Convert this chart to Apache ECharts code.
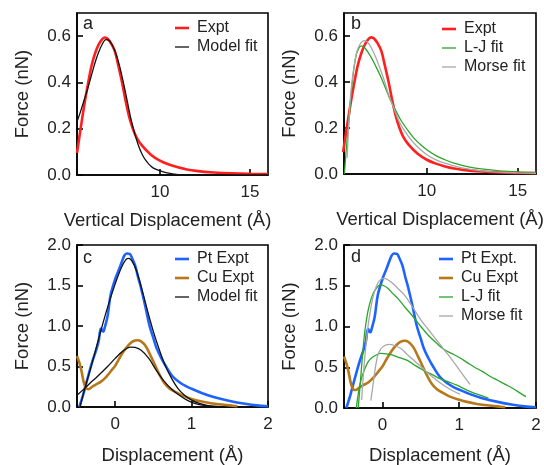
<!DOCTYPE html>
<html><head><meta charset="utf-8">
<script src="https://cdn.jsdelivr.net/npm/echarts@6/dist/echarts.min.js"></script>
<style>html,body{margin:0;padding:0;background:#fff}#c{width:544px;height:465px}</style>
</head><body><div id="c"></div>
<script>
// ---------- data ----------
const exptAB = [[5.4,0.095],[5.6,0.2],[5.8,0.30],[6.0,0.39],[6.2,0.47],[6.4,0.525],[6.6,0.563],[6.8,0.587],[6.95,0.594],[7.1,0.589],[7.3,0.568],[7.5,0.535],[7.7,0.47],[7.9,0.40],[8.1,0.32],[8.3,0.25],[8.5,0.2],[8.7,0.163],[9.0,0.128],[9.5,0.088],[10,0.062],[10.5,0.045],[11,0.033],[11.5,0.024],[12,0.018],[13,0.011],[14,0.007],[15,0.005],[16,0.004]];
const modelFitA = [[5.4,0.23],[5.6,0.275],[5.8,0.325],[6.0,0.375],[6.2,0.43],[6.4,0.485],[6.6,0.53],[6.8,0.565],[7.0,0.585],[7.2,0.58],[7.4,0.555],[7.6,0.515],[7.8,0.46],[8.0,0.39],[8.2,0.315],[8.4,0.24],[8.6,0.18],[8.8,0.13],[9.0,0.092],[9.2,0.065],[9.4,0.046],[9.6,0.032],[9.8,0.024],[10,0.018],[10.4,0.009],[10.8,0.004],[11.2,0.001],[12,0],[16,0]];
const ljFitB = [[5.47,0],[5.6,0.13],[5.73,0.236],[5.92,0.41],[6.1,0.51],[6.25,0.545],[6.41,0.557],[6.6,0.548],[6.92,0.51],[7.2,0.468],[7.47,0.423],[7.75,0.37],[8.0,0.322],[8.3,0.275],[8.56,0.236],[9.0,0.185],[9.29,0.156],[9.6,0.132],[10,0.105],[10.5,0.08],[11,0.062],[11.5,0.047],[12,0.036],[12.5,0.028],[13,0.022],[14,0.014],[15,0.009],[16,0.006]];
const morseFitB = [[5.62,0.07],[5.7,0.2],[5.8,0.33],[5.92,0.42],[6.05,0.49],[6.19,0.54],[6.4,0.572],[6.59,0.58],[6.8,0.568],[7.1,0.525],[7.4,0.465],[7.65,0.41],[7.9,0.345],[8.19,0.286],[8.5,0.225],[8.93,0.17],[9.4,0.125],[10,0.084],[10.6,0.058],[11.3,0.04],[12,0.026],[13,0.014],[14,0.008],[15,0.005],[16,0.003]];
const ptExpt = [[-0.47,0],[-0.42,0.15],[-0.36,0.36],[-0.3,0.56],[-0.25,0.7],[-0.215,0.82],[-0.2,0.93],[-0.185,0.97],[-0.17,0.94],[-0.155,0.93],[-0.14,0.97],[-0.1,1.12],[-0.06,1.385],[0.0,1.58],[0.05,1.7],[0.09,1.8],[0.12,1.87],[0.15,1.895],[0.19,1.89],[0.22,1.84],[0.26,1.75],[0.3,1.6],[0.33,1.5],[0.39,1.26],[0.45,1.0],[0.5,0.85],[0.54,0.73],[0.6,0.61],[0.65,0.525],[0.75,0.38],[0.85,0.3],[0.92,0.26],[1.0,0.225],[1.14,0.17],[1.3,0.12],[1.5,0.075],[1.7,0.04],[1.85,0.02],[2.0,0.01]];
const cuExpt = [[-0.5,0.63],[-0.47,0.55],[-0.44,0.44],[-0.41,0.3],[-0.38,0.23],[-0.35,0.22],[-0.3,0.25],[-0.25,0.28],[-0.19,0.31],[-0.12,0.37],[-0.05,0.45],[0.0,0.51],[0.06,0.61],[0.12,0.7],[0.18,0.77],[0.24,0.815],[0.29,0.825],[0.34,0.81],[0.4,0.75],[0.46,0.64],[0.52,0.52],[0.58,0.4],[0.64,0.3],[0.71,0.23],[0.8,0.18],[0.88,0.14],[1.0,0.1],[1.1,0.075],[1.2,0.055],[1.3,0.04],[1.4,0.03],[1.5,0.02],[1.6,0.01]];
const modelFitPt = [[-0.46,0],[-0.4,0.22],[-0.3,0.55],[-0.2,0.9],[-0.1,1.23],[0.0,1.52],[0.08,1.72],[0.14,1.82],[0.18,1.835],[0.22,1.8],[0.28,1.68],[0.35,1.45],[0.42,1.2],[0.5,0.93],[0.58,0.7],[0.66,0.5],[0.74,0.35],[0.82,0.23],[0.9,0.15],[1.0,0.085],[1.1,0.045],[1.2,0.02],[1.3,0.008],[1.4,0.002]];
const modelFitCu = [[-0.5,0.145],[-0.4,0.23],[-0.3,0.32],[-0.24,0.37],[-0.1,0.5],[0.0,0.6],[0.1,0.69],[0.2,0.74],[0.26,0.735],[0.34,0.7],[0.44,0.6],[0.54,0.45],[0.64,0.32],[0.74,0.22],[0.84,0.145],[0.94,0.085],[1.04,0.045],[1.14,0.022],[1.25,0.01],[1.4,0.003]];
const ljFitPt = [[-0.315,0],[-0.29,0.28],[-0.27,0.52],[-0.25,0.74],[-0.23,0.93],[-0.19,1.18],[-0.145,1.345],[-0.1,1.44],[-0.05,1.5],[-0.02,1.51],[0.02,1.5],[0.07,1.47],[0.13,1.41],[0.2,1.345],[0.3,1.23],[0.4,1.12],[0.5,1.0],[0.6,0.89],[0.7,0.8],[0.8,0.72],[0.9,0.67],[1.0,0.62],[1.1,0.56],[1.2,0.5],[1.3,0.45],[1.4,0.39],[1.5,0.34],[1.6,0.29],[1.7,0.24],[1.8,0.18],[1.87,0.14]];
const ljFitCu = [[-0.34,0],[-0.32,0.14],[-0.295,0.28],[-0.26,0.4],[-0.23,0.48],[-0.19,0.56],[-0.145,0.61],[-0.08,0.65],[-0.02,0.67],[0.05,0.665],[0.11,0.655],[0.2,0.625],[0.325,0.585],[0.43,0.52],[0.54,0.46],[0.65,0.41],[0.75,0.36],[0.86,0.32],[0.97,0.28],[1.1,0.22],[1.2,0.18],[1.3,0.15],[1.38,0.12]];
const morseFitPt = [[-0.27,0.1],[-0.24,0.5],[-0.2,0.9],[-0.16,1.18],[-0.12,1.37],[-0.08,1.49],[-0.04,1.56],[0.01,1.59],[0.06,1.58],[0.12,1.54],[0.2,1.47],[0.3,1.37],[0.4,1.23],[0.5,1.08],[0.6,0.96],[0.7,0.84],[0.8,0.72],[0.9,0.6],[1.0,0.47],[1.07,0.38],[1.14,0.29]];
const morseFitCu = [[-0.15,0.09],[-0.12,0.3],[-0.1,0.44],[-0.08,0.56],[-0.06,0.65],[-0.03,0.71],[0.005,0.75],[0.05,0.775],[0.09,0.78],[0.15,0.77],[0.24,0.73],[0.32,0.66],[0.41,0.585],[0.5,0.51],[0.58,0.44],[0.67,0.37],[0.75,0.31],[0.88,0.23],[1.01,0.17]];

const xTicksAB = [10, 15];
const yTicksAB = [0, 0.2, 0.4, 0.6];
const xTicksCD = [0, 1, 2];
const yTicksCD = [0, 0.5, 1.0, 1.5, 2.0];
const panelLetters = ['a', 'b', 'c', 'd'];
const xTitleAB = 'Vertical Displacement (Å)';
const xTitleCD = 'Displacement (Å)';
const yTitle = 'Force (nN)';

// ---------- styling ----------
const FONT = "'Liberation Sans', Arial, Helvetica, sans-serif";
const C = {red:'#ff1f1f', black:'#111111', green:'#2aa52a', gray:'#a8a8a8', blue:'#1f63ff', brown:'#b7781c'};
const THICK = 'path://M0,0M0,10M0,3.7h14v2.6h-14z';
const THIN = 'path://M0,0M0,10M0,4.35h14v1.3h-14z';
const grids = [
  {left:77, top:13, width:191, height:162},
  {left:344, top:13, width:192, height:161},
  {left:77, top:245, width:191, height:162},
  {left:344, top:245, width:192, height:163}
];
const ranges = [
  {x:[5.4,16], y:[0,0.7], xt:xTicksAB, yt:yTicksAB, xn:xTitleAB, gap:36, pad:[0,10,0,0]},
  {x:[5.45,16], y:[0,0.7], xt:xTicksAB, yt:yTicksAB, xn:xTitleAB, gap:36, pad:0},
  {x:[-0.5,2], y:[0,2], xt:xTicksCD, yt:yTicksCD, xn:xTitleCD, gap:39, pad:0},
  {x:[-0.5,2], y:[0,2], xt:xTicksCD, yt:yTicksCD, xn:xTitleCD, gap:38, pad:0}
];
const axisLineStyle = {color:'#000', width:1.6};
const xAxis = ranges.map((r,i)=>({
  type:'value', gridIndex:i, min:r.x[0], max:r.x[1],
  name:r.xn, nameLocation:'middle', nameGap:r.gap,
  nameTextStyle:{fontFamily:FONT, fontSize:18.5, color:'#222', padding:r.pad},
  axisLine:{show:true, onZero:false, lineStyle:axisLineStyle},
  axisTick:{show:true, inside:true, length:6, customValues:r.xt, lineStyle:axisLineStyle},
  axisLabel:{show:true, customValues:r.xt, margin:9, fontFamily:FONT, fontSize:17, color:'#222', formatter:v=>String(v)},
  splitLine:{show:false}
}));
const yAxis = ranges.map((r,i)=>({
  type:'value', gridIndex:i, min:r.y[0], max:r.y[1],
  name:yTitle, nameLocation:'middle', nameRotate:90, nameGap:45,
  nameTextStyle:{fontFamily:FONT, fontSize:18.5, color:'#222'},
  axisLine:{show:true, onZero:false, lineStyle:axisLineStyle},
  axisTick:{show:true, inside:true, length:6, customValues:r.yt, lineStyle:axisLineStyle},
  axisLabel:{show:true, customValues:r.yt, margin:6, fontFamily:FONT, fontSize:17, color:'#222', formatter:v=>v.toFixed(1)},
  splitLine:{show:false}
}));
function line(name, data, color, width, gi, z){
  return {type:'line', name, data, xAxisIndex:gi, yAxisIndex:gi, symbol:'none', showSymbol:false,
    smooth:0.35, lineStyle:{color, width}, itemStyle:{color}, z:z||2, silent:true, animation:false, clip:true};
}
const series = [
  line('Expt', exptAB, C.red, 2.6, 0, 2),
  line('Model fit', modelFitA, C.black, 1.3, 0, 3),
  line('Expt', exptAB, C.red, 2.6, 1, 2),
  line('L-J fit', ljFitB, C.green, 1.3, 1, 3),
  line('Morse fit', morseFitB, C.gray, 1.3, 1, 4),
  line('Pt Expt', ptExpt, C.blue, 2.6, 2, 2),
  line('Cu Expt', cuExpt, C.brown, 2.6, 2, 2),
  line('Model fit', modelFitPt, C.black, 1.3, 2, 3),
  line('Model fit', modelFitCu, C.black, 1.3, 2, 3),
  line('Pt Expt.', ptExpt, C.blue, 2.6, 3, 2),
  line('Cu Expt', cuExpt, C.brown, 2.6, 3, 2),
  line('L-J fit', ljFitPt, C.green, 1.3, 3, 3),
  line('L-J fit', ljFitCu, C.green, 1.3, 3, 3),
  line('Morse fit', morseFitPt, C.gray, 1.3, 3, 4),
  line('Morse fit', morseFitCu, C.gray, 1.3, 3, 4)
];
const thickNames = ['Expt','Pt Expt','Pt Expt.','Cu Expt'];
function legend(left, top, names){
  return {left, top, padding:0, orient:'vertical', itemWidth:14, itemHeight:10, itemGap:3, selectedMode:false,
    itemStyle:{borderWidth:0},
    data:names.map(n=>({name:n, icon: thickNames.includes(n) ? THICK : THIN})),
    textStyle:{fontFamily:FONT, fontSize:16, color:'#222', padding:[0,0,0,3]}};
}
const legends = [
  legend(175, 20, ['Expt','Model fit']),
  legend(442, 21, ['Expt','L-J fit','Morse fit']),
  legend(175, 251, ['Pt Expt','Cu Expt','Model fit']),
  legend(439, 251, ['Pt Expt.','Cu Expt','L-J fit','Morse fit'])
];
const letterPos = [[83,26],[351,26],[83,260],[351,259]];
const graphic = panelLetters.map((t,i)=>({type:'text', left:letterPos[i][0], top:letterPos[i][1]-11,
  style:{text:t, fontFamily:FONT, fontSize:18, fill:'#222'}, z:10}));

const chart = echarts.init(document.getElementById('c'), null, {renderer:'canvas'});
chart.setOption({
  animation:false,
  backgroundColor:'#fff',
  grid: grids.map(g=>Object.assign({show:true, borderColor:'#000', borderWidth:1.6, backgroundColor:'transparent',
    containLabel:false, outerBoundsMode:'none'}, g)),
  xAxis, yAxis, series, legend:legends, graphic
});
</script></body></html>
